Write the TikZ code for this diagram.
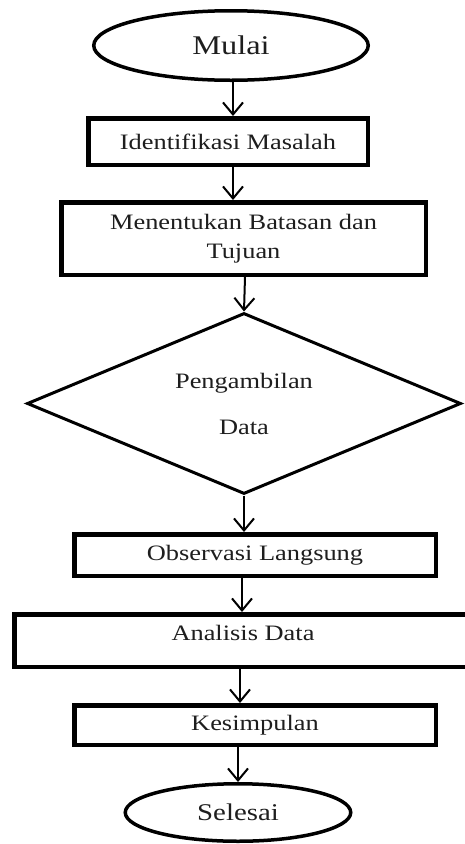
\documentclass[tikz,border=0pt]{standalone}
\usepackage{fontspec}
\setmainfont[FakeStretch=1.2]{Liberation Serif}
\usetikzlibrary{shapes.geometric,arrows.meta}
\definecolor{txt}{HTML}{1E1E1E}
\tikzset{
  boxnode/.style={draw=black, line width=4.5pt, rectangle, inner sep=0pt, text=txt,
    font=\fontsize{22}{29}\selectfont, align=center},
  ovalnode/.style={draw=black, line width=3.5pt, ellipse, inner sep=0pt, text=txt},
  dianode/.style={draw=black, line width=3pt, diamond, aspect=2.4, inner sep=0pt, text=txt,
    font=\fontsize{22}{46}\selectfont, align=center},
  arr/.style={draw=black, line width=2pt, -{Straight Barb[length=12pt,width=20pt,line width=2pt]}}
}
\begin{document}
\begin{tikzpicture}[x=1pt,y=1pt]
\clip (0,0) rectangle (465,-844);
\fill[white] (0,0) rectangle (465,-844);
\node[ovalnode, minimum width=274.5pt, minimum height=69.5pt, font=\fontsize{27}{32}\selectfont] (mulai) at (231,-45.5) {Mulai};
\node[boxnode, minimum width=279.5pt, minimum height=46.5pt] (ident) at (228,-141.5) {Identifikasi Masalah};
\node[boxnode, minimum width=364.5pt, minimum height=72.5pt] (batas) at (243.5,-238.5) {Menentukan Batasan dan\\Tujuan};
\node[dianode, minimum width=434pt, minimum height=181pt] (data) at (244,-403.5) {Pengambilan\\Data};
\node[boxnode, minimum width=361.5pt, minimum height=41.5pt] (obs) at (255,-555) {Observasi Langsung};
\node[boxnode, minimum width=457.5pt, minimum height=52.5pt, text depth=16pt] (ana) at (243,-640.5) {Analisis Data};
\node[boxnode, minimum width=361.5pt, minimum height=39.5pt] (kes) at (255,-725) {Kesimpulan};
\node[ovalnode, minimum width=225.5pt, minimum height=57.5pt, font=\fontsize{24}{29}\selectfont] (selesai) at (238,-812.5) {Selesai};
\draw[arr] ([xshift=2pt]mulai.south) -- ([xshift=2pt]mulai.south |- ident.north);
\draw[arr] ([xshift=5pt]ident.south) -- ([xshift=5pt]ident.south |- batas.north);
\draw[arr] ([xshift=1.5pt]batas.south) -- (data.north);
\draw[arr] (data.south) -- (data.south |- obs.north);
\draw[arr] ([xshift=-13pt]obs.south) -- ([xshift=-13pt]obs.south |- ana.north);
\draw[arr] ([xshift=-3pt]ana.south) -- ([xshift=-3pt]ana.south |- kes.north);
\draw[arr] (selesai.north |- kes.south) -- (selesai.north);
\end{tikzpicture}
\end{document}
